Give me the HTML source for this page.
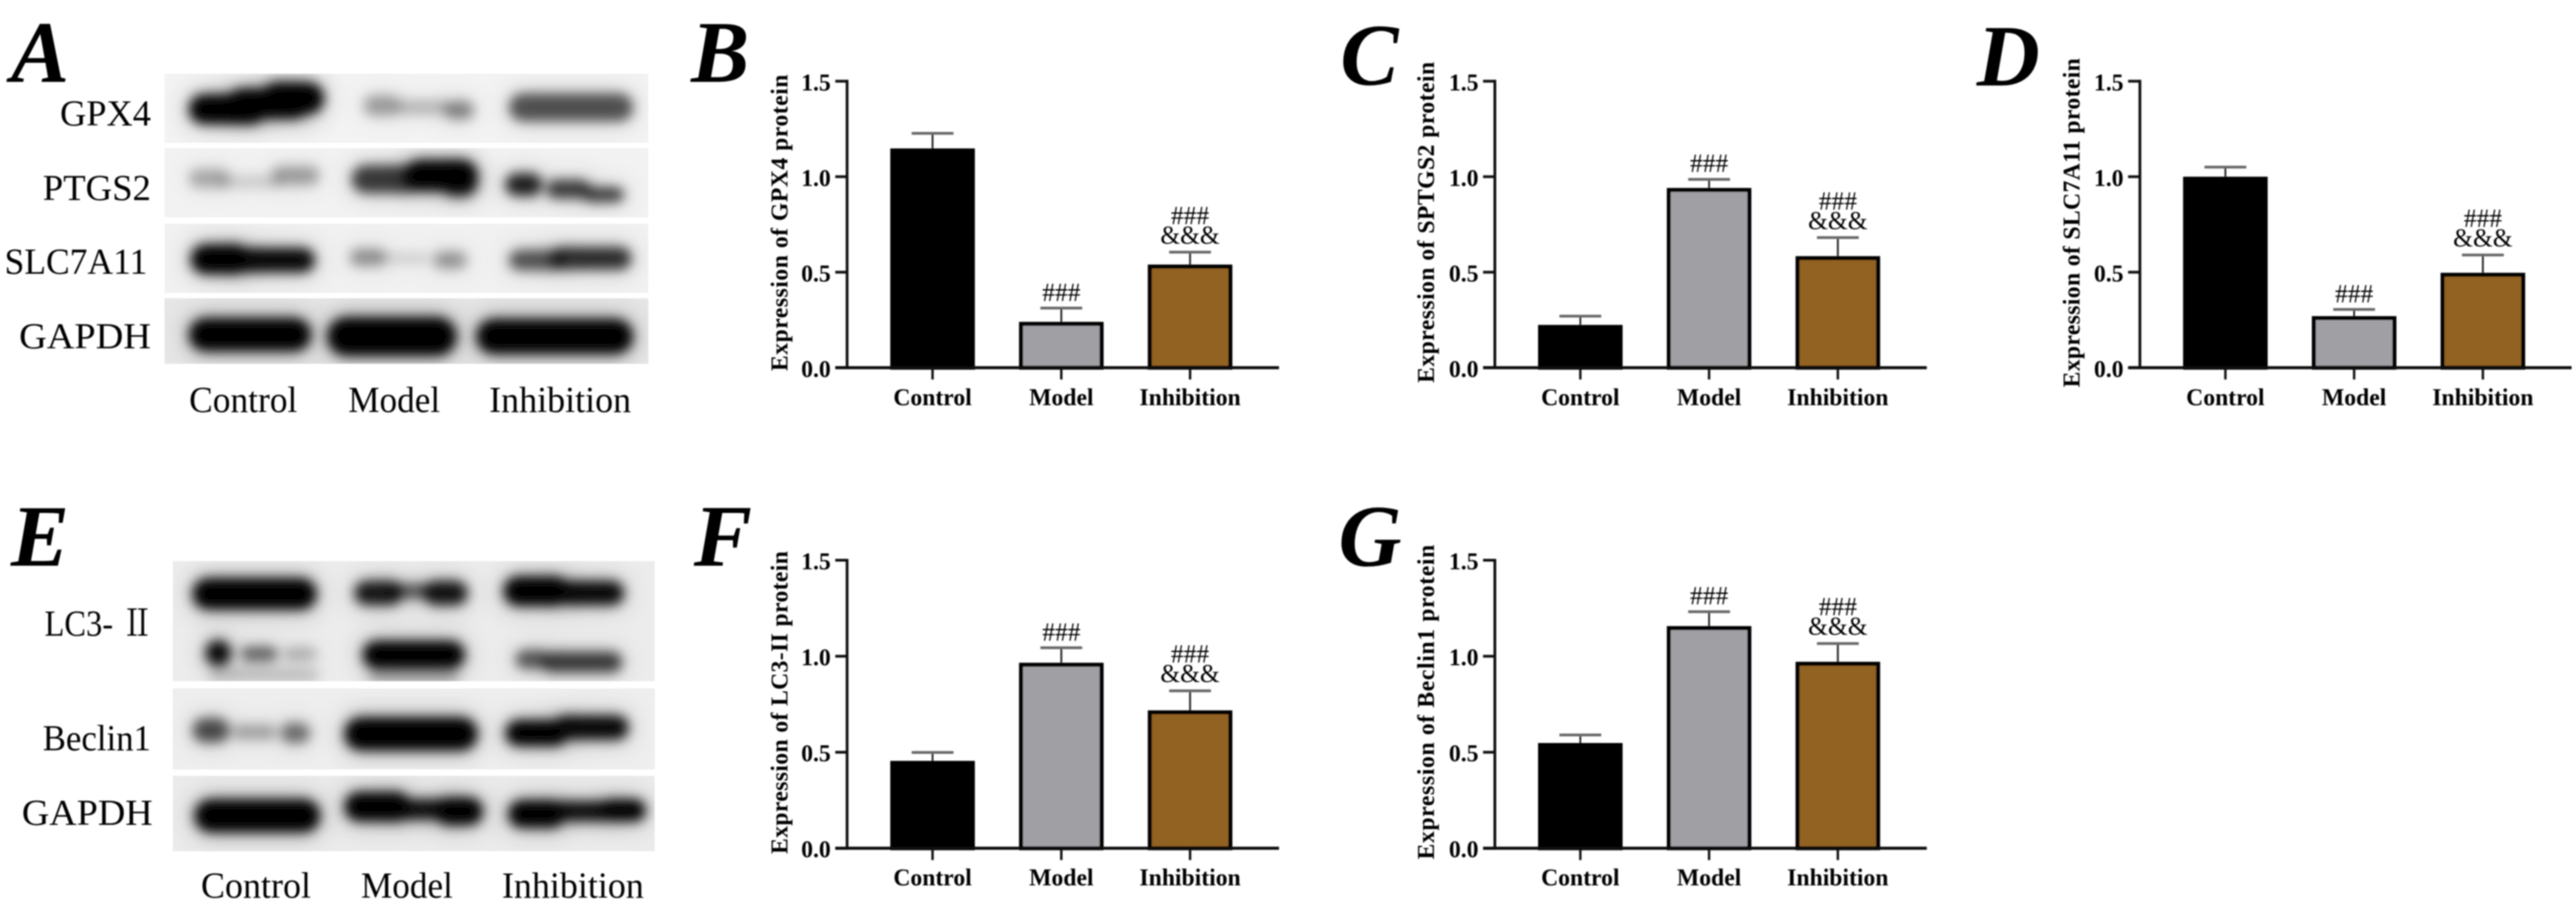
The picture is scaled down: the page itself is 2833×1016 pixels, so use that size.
<!DOCTYPE html>
<html lang="en">
<head>
<meta charset="utf-8">
<title>Western blot and protein expression figure</title>
<style>
  html, body { margin: 0; padding: 0; background: #fff; }
  svg { display: block; }
  text { font-family: "Liberation Serif", "Noto Serif CJK SC", serif; fill: #000; }
</style>
</head>
<body>
<svg id="figure" xmlns="http://www.w3.org/2000/svg" width="2833" height="1016" viewBox="0 0 2833 1016">
  <defs>
    <filter id="soften" x="0" y="0" width="100%" height="100%" filterUnits="objectBoundingBox"><feGaussianBlur stdDeviation="0.8"/></filter>
    <filter id="bandBlur" x="-30%" y="-80%" width="160%" height="260%"><feGaussianBlur stdDeviation="6.5"/></filter>
    <filter id="smearBlur" x="-30%" y="-100%" width="160%" height="300%"><feGaussianBlur stdDeviation="13"/></filter>
  </defs>
  <rect width="2833" height="1016" fill="#fff"/>
  <g id="content" filter="url(#soften)"></g>
</svg>
<script>
// ---- Chart data ----
const categories = ['Control', 'Model', 'Inhibition'];
const yTicks = [0, 0.5, 1, 1.5];
const yTickLabels = ['0.0', '0.5', '1.0', '1.5'];
const significance = [[], ['###'], ['###', '&&&']];

const gpx4Means = [1.148, 0.24, 0.54];
const gpx4Errors = [0.079, 0.072, 0.065];
const ptgs2Means = [0.224, 0.941, 0.584];
const ptgs2Errors = [0.046, 0.045, 0.097];
const slc7a11Means = [1.0, 0.27, 0.497];
const slc7a11Errors = [0.05, 0.035, 0.093];
const lc3Means = [0.455, 0.966, 0.718];
const lc3Errors = [0.044, 0.078, 0.102];
const beclin1Means = [0.548, 1.157, 0.971];
const beclin1Errors = [0.042, 0.075, 0.095];

const barColors = ['#000000', '#a09fa4', '#926222'];
const SVGNS = 'http://www.w3.org/2000/svg';
const root = document.getElementById('content');

function el(tag, parent, attrs) {
  const node = document.createElementNS(SVGNS, tag);
  for (const k in attrs) node.setAttribute(k, attrs[k]);
  parent.appendChild(node);
  return node;
}
function txt(parent, str, attrs) {
  const node = el('text', parent, attrs);
  node.textContent = str;
  return node;
}
function slug(s) { return s.toLowerCase().replace(/[^a-z0-9]+/g, '-'); }

// ---- Bar chart panel ----
function drawPanel(p) {
  const g = el('g', root, {});
  
  

  const yScale = v => p.y0 - (v / 1.5) * (p.y0 - p.yTop);
  const xScale = i => p.ox + 94 + i * 141.6;
  const barW = 93;

  // bars
  p.means.forEach((m, i) => {
    const cx = xScale(i);
    const top = yScale(m);
    const errTop = yScale(m + p.errors[i]);

    const stem = el('line', g, { x1: cx, x2: cx, y1: errTop, y2: top, stroke: '#222', 'stroke-width': 2 });
    
    

    const cap = el('line', g, { x1: cx - 23, x2: cx + 23, y1: errTop, y2: errTop, stroke: '#666', 'stroke-width': 3 });
    
    

    const bar = el('rect', g, {
      x: cx - barW / 2 + 2.2, y: top + 2.2, width: barW - 4.4, height: p.y0 - top - 2.2,
      fill: barColors[i], stroke: '#000', 'stroke-width': 4.4
    });
    
    

    significance[i].forEach((mark, k, all) => {
      const lift = all.length === 1 ? 8 : (mark === '&&&' ? 9.5 : 31);
      const t = txt(g, mark, {
        x: cx, y: errTop - lift, 'text-anchor': 'middle', 'font-size': 28,
        fill: mark === '###' ? '#2a2a2a' : '#111'
      });
      
      
    });

    const tick = el('line', g, { x1: cx, x2: cx, y1: p.y0, y2: p.y0 + 13, stroke: '#111', 'stroke-width': 2.6 });
    
    

    const lab = txt(g, categories[i], {
      x: cx, y: p.y0 + 41, 'text-anchor': 'middle', 'font-size': 26, 'font-weight': 'bold'
    });
    
    
  });

  // axes
  const yAxis = el('line', g, { x1: p.ox, x2: p.ox, y1: p.yTop - 1.5, y2: p.y0 + 1.5, stroke: '#111', 'stroke-width': 3 });
  
  

  const xAxis = el('line', g, { x1: p.ox - 13, x2: p.ox + 475, y1: p.y0, y2: p.y0, stroke: '#111', 'stroke-width': 3.4 });
  
  

  yTicks.forEach((v, i) => {
    const y = yScale(v);
    const tick = el('line', g, { x1: p.ox - 13, x2: p.ox, y1: y, y2: y, stroke: '#111', 'stroke-width': 3 });
    
    
    const lab = txt(g, yTickLabels[i], {
      x: p.ox - 18, y: y + 10, 'text-anchor': 'end', 'font-size': 26, 'font-weight': 'bold'
    });
    
    
  });

  // y axis title
  const title = txt(g, p.title, {
    x: p.titleX, y: p.titleBottom, 'font-size': 26, 'font-weight': 'bold',
    textLength: p.titleLen, lengthAdjust: 'spacing',
    transform: 'rotate(-90 ' + p.titleX + ' ' + p.titleBottom + ')'
  });
  
  
}

drawPanel({ key: 'gpx4', means: gpx4Means, errors: gpx4Errors, ox: 931.6, yTop: 89.3, y0: 404.3,
  title: 'Expression of GPX4 protein', titleX: 866, titleBottom: 408, titleLen: 326 });
drawPanel({ key: 'sptgs2', means: ptgs2Means, errors: ptgs2Errors, ox: 1644, yTop: 89.3, y0: 404.3,
  title: 'Expression of SPTGS2 protein', titleX: 1577, titleBottom: 421, titleLen: 353 });
drawPanel({ key: 'slc7a11', means: slc7a11Means, errors: slc7a11Errors, ox: 2353.4, yTop: 89.3, y0: 404.3,
  title: 'Expression of SLC7A11 protein', titleX: 2287, titleBottom: 426, titleLen: 362 });
drawPanel({ key: 'lc3', means: lc3Means, errors: lc3Errors, ox: 931.6, yTop: 616, y0: 932.7,
  title: 'Expression of LC3-II protein', titleX: 866, titleBottom: 939, titleLen: 333 });
drawPanel({ key: 'beclin1', means: beclin1Means, errors: beclin1Errors, ox: 1644, yTop: 616, y0: 932.7,
  title: 'Expression of Beclin1 protein', titleX: 1577, titleBottom: 945, titleLen: 346 });

// ---- Panel letters ----
function panelLetter(ch, x, y) {
  const t = txt(root, ch, { x: x, y: y, 'font-size': 96, 'font-weight': 'bold', 'font-style': 'italic' });
  
  
}
panelLetter('A', 12, 90);
panelLetter('B', 760, 90);
panelLetter('C', 1474, 93);
panelLetter('D', 2174, 94);
panelLetter('E', 12, 622);
panelLetter('F', 763, 622);
panelLetter('G', 1472, 622);

// ---- Western blot images (drawn as blurred shapes) ----
let clipCount = 0;
function blotRow(name, x, y, w, h, bg, bands) {
  const id = 'rowclip' + (clipCount++);
  const clip = el('clipPath', root, { id: id });
  el('rect', clip, { x: x, y: y, width: w, height: h });
  const g = el('g', root, { 'clip-path': 'url(#' + id + ')' });
  
  
  el('rect', g, { x: x, y: y, width: w, height: h, fill: bg });
  bands.forEach(b => {
    const halo = el('g', g, { filter: 'url(#smearBlur)' });
    
    
    const core = el('g', g, { filter: 'url(#bandBlur)' });
    
    
    b.blobs.forEach(q => {
      el('rect', halo, {
        x: q[0] - q[2] - 2, y: q[1] - q[3] * 1.3, width: q[2] * 2 + 4, height: q[3] * 2.6,
        rx: q[3], fill: '#000', 'fill-opacity': q[4] * 0.28
      });
      el('rect', core, {
        x: q[0] - q[2], y: q[1] - q[3] - 1, width: q[2] * 2, height: q[3] * 2 + 2,
        rx: Math.min(q[2], q[3] + 1), fill: '#000', 'fill-opacity': q[4]
      });
    });
  });
}

// Panel A blot
blotRow('gpx4', 181, 81, 532, 76, '#f3f3f3', [
  { lane: 'control', blobs: [[250,120,42,15,1],[295,114,45,15,1],[322,108,34,16,1]] },
  { lane: 'model', blobs: [[420,116,20,10,.32],[465,118,30,7,.22],[505,121,16,9,.42]] },
  { lane: 'inhibition', blobs: [[628,118,68,14,.62]] }
]);
blotRow('ptgs2', 181, 163, 532, 76, '#f2f2f2', [
  { lane: 'control', blobs: [[230,196,22,9,.28],[275,200,35,6,.14],[325,193,26,9,.32]] },
  { lane: 'model', blobs: [[425,197,38,14,.72],[485,193,40,16,1],[505,201,20,14,.75]] },
  { lane: 'inhibition', blobs: [[576,203,20,11,.85],[625,208,24,9,.72],[664,214,22,7,.72]] }
]);
blotRow('slc7a11', 181, 246, 532, 76, '#f1f1f1', [
  { lane: 'control', blobs: [[242,285,32,15,1],[300,286,46,12,.95]] },
  { lane: 'model', blobs: [[405,283,20,8,.38],[448,284,24,5,.12],[495,286,18,8,.36]] },
  { lane: 'inhibition', blobs: [[590,286,30,10,.62],[650,284,44,11,.78]] }
]);
blotRow('gapdh-a', 181, 328, 532, 72, '#e6e6e6', [
  { lane: 'control', blobs: [[275,368,67,17,1]] },
  { lane: 'model', blobs: [[431,370,71,20,1]] },
  { lane: 'inhibition', blobs: [[610,370,86,18,1]] }
]);

// Panel E blot
blotRow('lc3', 190, 617, 530, 132, '#ececec', [
  { lane: 'control-upper', blobs: [[280,653,68,16,1]] },
  { lane: 'model-upper', blobs: [[416,652,26,12,.88],[450,650,24,7,.6],[490,652,24,12,.9]] },
  { lane: 'inhibition-upper', blobs: [[590,650,36,15,1],[650,652,36,12,.95]] },
  { lane: 'control-lower', blobs: [[240,718,14,13,.95],[285,719,20,7,.55],[330,719,18,6,.25],[290,742,60,6,.18]] },
  { lane: 'model-lower', blobs: [[455,720,56,14,1],[455,744,50,5,.28]] },
  { lane: 'inhibition-lower', blobs: [[585,725,18,9,.6],[640,728,44,10,.72]] }
]);
blotRow('beclin1', 190, 757, 530, 89, '#eeeeee', [
  { lane: 'control', blobs: [[232,803,20,12,.65],[280,805,24,7,.3],[325,806,16,10,.5]] },
  { lane: 'model', blobs: [[452,807,73,17,1]] },
  { lane: 'inhibition', blobs: [[590,806,34,13,1],[650,800,41,12,.95]] }
]);
blotRow('gapdh-e', 190, 853, 530, 83, '#ebebeb', [
  { lane: 'control', blobs: [[283,897,69,17,1]] },
  { lane: 'model', blobs: [[415,887,36,15,1],[465,890,32,10,.92],[505,892,26,14,1]] },
  { lane: 'inhibition', blobs: [[590,895,31,14,1],[640,892,32,10,.92],[685,891,25,11,1]] }
]);

// ---- Blot labels ----
function blotLabel(name, str, x, y, len) {
  const t = txt(root, str, { x: x, y: y, 'font-size': 40, textLength: len, lengthAdjust: 'spacingAndGlyphs' });
  
  
}
blotLabel('blot-label-gpx4', 'GPX4', 66, 138, 100);
blotLabel('blot-label-ptgs2', 'PTGS2', 47, 220, 119);
blotLabel('blot-label-slc7a11', 'SLC7A11', 5, 301, 157);
blotLabel('blot-label-gapdh', 'GAPDH', 21, 383, 145);
blotLabel('blot-lane-control', 'Control', 208, 453, 119);
blotLabel('blot-lane-model', 'Model', 383, 453, 101);
blotLabel('blot-lane-inhibition', 'Inhibition', 538, 453, 156);

blotLabel('blot-label-lc3', 'LC3- \u2161', 49, 699, 120);
blotLabel('blot-label-beclin1', 'Beclin1', 47, 825, 119);
blotLabel('blot-label-gapdh-e', 'GAPDH', 24, 907, 144);
blotLabel('blot-lane-control-e', 'Control', 221, 987, 121);
blotLabel('blot-lane-model-e', 'Model', 397, 987, 101);
blotLabel('blot-lane-inhibition-e', 'Inhibition', 552, 987, 156);
</script>
</body>
</html>
